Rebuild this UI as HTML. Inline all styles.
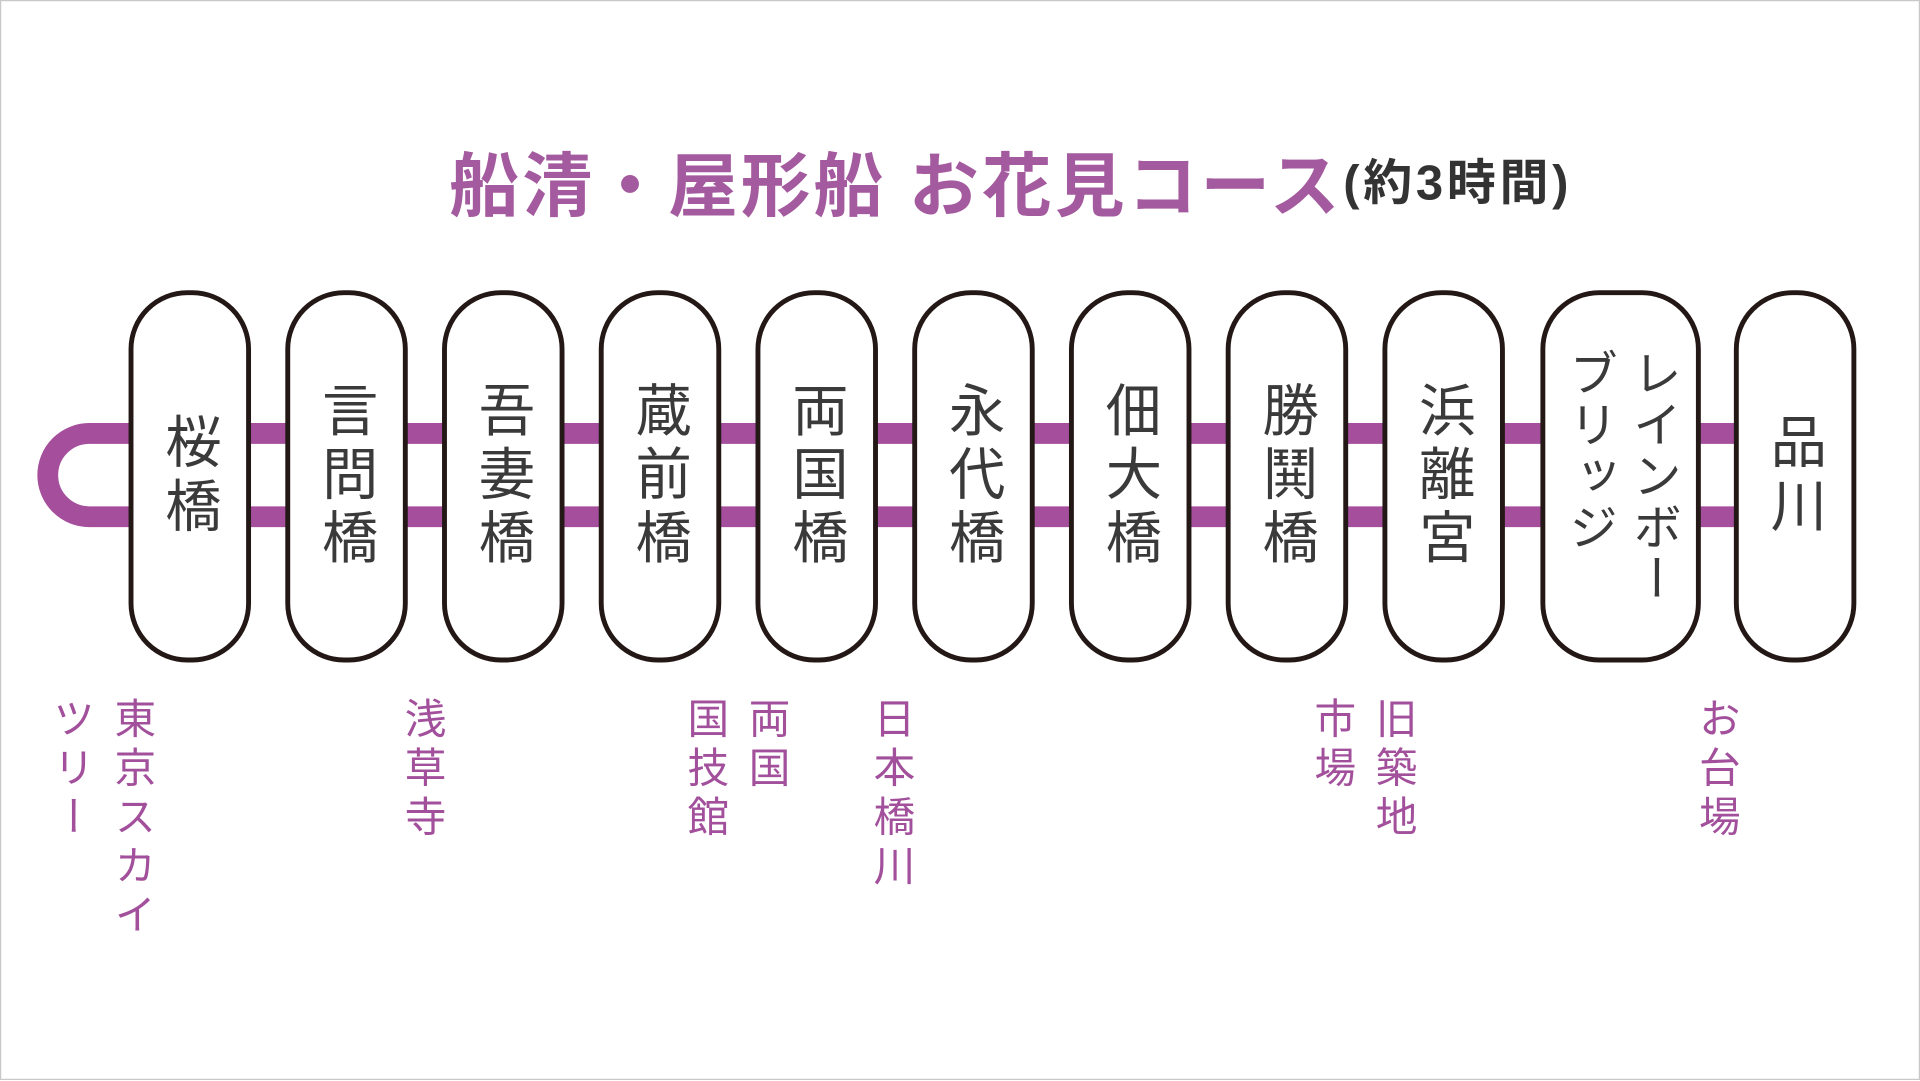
<!DOCTYPE html>
<html><head><meta charset="utf-8"><style>
html,body{margin:0;padding:0;background:#fff;width:1920px;height:1080px;overflow:hidden}
#s{position:absolute;left:0;top:0;width:1568px;height:882px;transform:scale(1.22449);transform-origin:0 0;font-family:"Liberation Sans","Noto Sans CJK JP",sans-serif;border:1px solid #c8c8c8;box-sizing:border-box}
.t{position:absolute;white-space:nowrap}
.box{position:absolute;top:236px;height:304px;width:100px;border:4px solid #231815;border-radius:48px;box-sizing:border-box;background:#fff;display:flex;align-items:center;justify-content:center}
.box span{writing-mode:vertical-rl;font-size:46px;color:#3a3a3a;letter-spacing:6px;line-height:52px}
.lab{position:absolute;top:568px;writing-mode:vertical-rl;font-size:34px;color:#a2509b;line-height:50px;letter-spacing:6px}
</style></head><body><div id="s">
<div class="t" style="left:366px;top:106px;font-size:57px;font-weight:bold;color:#a45a9e;letter-spacing:2.5px">船清・屋形船 お花見コース</div>
<div class="t" style="left:1096px;top:116px;font-size:40px;font-weight:bold;color:#333;letter-spacing:3px">(約3時間)</div>
<svg style="position:absolute;left:0;top:0" width="1568" height="882">
<path d="M1420 353 H72 A34 34 0 0 0 72 421 H1420" fill="none" stroke="#a44e9c" stroke-width="17"/>
</svg>
<div class="box" style="left:104px"><span>桜橋</span></div>
<div class="box" style="left:232px"><span>言問橋</span></div>
<div class="box" style="left:360px"><span>吾妻橋</span></div>
<div class="box" style="left:488px"><span>蔵前橋</span></div>
<div class="box" style="left:616px"><span>両国橋</span></div>
<div class="box" style="left:744px"><span>永代橋</span></div>
<div class="box" style="left:872px"><span>佃大橋</span></div>
<div class="box" style="left:1000px"><span>勝鬨橋</span></div>
<div class="box" style="left:1128px"><span>浜離宮</span></div>
<div class="box" style="left:1257px;width:131px"><span style="font-size:40px;line-height:52px;letter-spacing:2px">レインボー<br>ブリッジ</span></div>
<div class="box" style="left:1415px"><span>品川</span></div>
<div class="lab" style="left:31px">東京スカイ<br>ツリー</div>
<div class="lab" style="left:318px">浅草寺</div>
<div class="lab" style="left:549px">両国<br>国技館</div>
<div class="lab" style="left:701px">日本橋川</div>
<div class="lab" style="left:1061px">旧築地<br>市場</div>
<div class="lab" style="left:1375px">お台場</div>
</div></body></html>
